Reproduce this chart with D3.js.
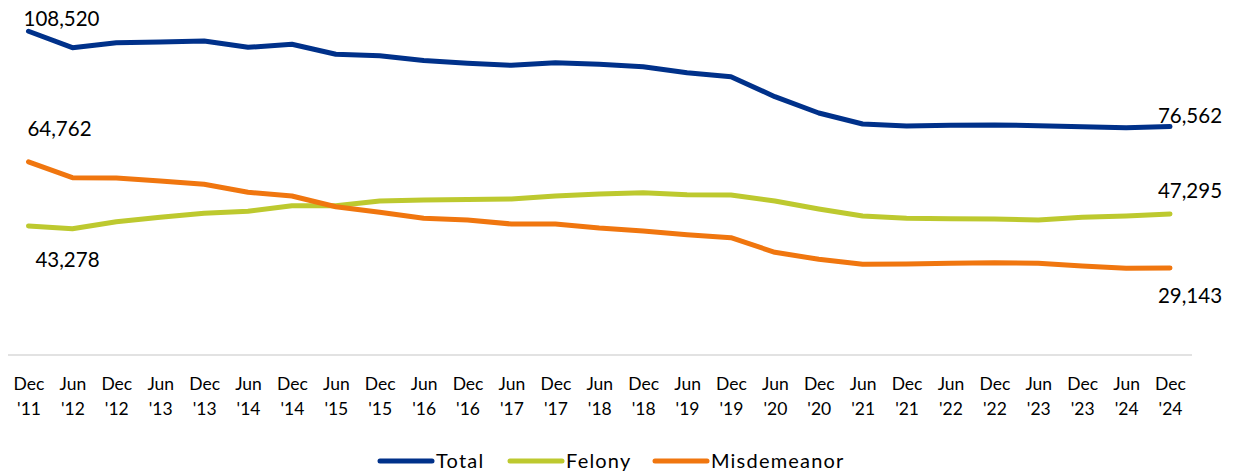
<!DOCTYPE html>
<html>
<head>
<meta charset="utf-8">
<script src="https://cdn.jsdelivr.net/npm/d3@7"></script>
<style>
  body { margin: 0; background: #fff; }
  svg text { font-family: Lato, "Liberation Sans", sans-serif; fill: #000; }
</style>
</head>
<body>
<svg id="chart" width="1233" height="473"></svg>
<script>
// periods on the x axis (two-line labels)
const periods = [
  "Dec '11", "Jun '12", "Dec '12", "Jun '13", "Dec '13", "Jun '14", "Dec '14",
  "Jun '15", "Dec '15", "Jun '16", "Dec '16", "Jun '17", "Dec '17", "Jun '18",
  "Dec '18", "Jun '19", "Dec '19", "Jun '20", "Dec '20", "Jun '21", "Dec '21",
  "Jun '22", "Dec '22", "Jun '23", "Dec '23", "Jun '24", "Dec '24"
];

const total = [
  108520, 103010, 104680, 104920, 105250, 103140, 104150, 100790, 100330,
  98720, 97780, 97110, 97980, 97440, 96640, 94630, 93290, 86580, 81120,
  77430, 76760, 77000, 77100, 76860, 76530, 76190, 76562
];

const felony = [
  43278, 42340, 44680, 46160, 47500, 48170, 50050, 50050, 51620,
  51960, 52120, 52290, 53300, 53970, 54400, 53730, 53630, 51620, 48940,
  46590, 45820, 45690, 45590, 45250, 46160, 46590, 47295
];

const misdemeanor = [
  64762, 59430, 59330, 58320, 57220, 54540, 53300, 49710, 47830,
  45820, 45250, 43910, 43910, 42570, 41560, 40330, 39320, 34420, 32080,
  30400, 30500, 30740, 30940, 30740, 29830, 29060, 29143
];

const seriesNames = ["Total", "Felony", "Misdemeanor"];
const seriesColors = ["#00318A", "#BDC92F", "#F0760F"];

const svg = d3.select("#chart");

const x = d3.scalePoint().domain(periods).range([28.5, 1170]);
const y = d3.scaleLinear().domain([0, 120000]).range([355, -3]);

// baseline
svg.append("line")
  .attr("x1", 8).attr("x2", 1192)
  .attr("y1", 355).attr("y2", 355)
  .attr("stroke", "#d9d9d9")
  .attr("stroke-width", 1.5);

// x axis labels
const xAxis = svg.append("g")
  .attr("transform", "translate(0,355)")
  .call(d3.axisBottom(x).tickSize(0).tickPadding(0));
xAxis.select(".domain").remove();
xAxis.selectAll(".tick text").each(function(d) {
  const parts = d.split(" ");
  const t = d3.select(this).text(null)
    .attr("font-size", 17.5)
    .attr("text-anchor", "middle")
    .attr("y", 0).attr("dy", null);
  t.append("tspan").attr("x", 0).attr("y", 35).text(parts[0]);
  t.append("tspan").attr("x", 0).attr("y", 60).text(parts[1]);
});

// lines
const lineGen = d3.line()
  .x((d, i) => x(periods[i]))
  .y(d => y(d));

const allSeries = [total, felony, misdemeanor];
allSeries.forEach((s, k) => {
  svg.append("path")
    .datum(s)
    .attr("d", lineGen)
    .attr("fill", "none")
    .attr("stroke", seriesColors[k])
    .attr("stroke-width", 5)
    .attr("stroke-linejoin", "round")
    .attr("stroke-linecap", "round");
});

// end point labels
const fmt = d3.format(",");
const first = periods[0], last = periods[periods.length - 1];
const labels = [
  { v: total[0], x: x(first) + 33, y: y(total[0]) - 5 },
  { v: misdemeanor[0], x: x(first) + 31, y: y(misdemeanor[0]) - 26 },
  { v: felony[0], x: x(first) + 39, y: y(felony[0]) + 41 },
  { v: total[total.length - 1], x: x(last) + 20, y: y(total[total.length - 1]) - 4 },
  { v: felony[felony.length - 1], x: x(last) + 20, y: y(felony[felony.length - 1]) - 16 },
  { v: misdemeanor[misdemeanor.length - 1], x: x(last) + 20, y: y(misdemeanor[misdemeanor.length - 1]) + 35 }
];
svg.append("g")
  .selectAll("text")
  .data(labels)
  .join("text")
  .attr("x", d => d.x)
  .attr("y", d => d.y)
  .attr("text-anchor", "middle")
  .attr("font-size", 20.5)
  .text(d => fmt(d.v));

// legend
const legendX = [380, 510, 655];
const legend = svg.append("g");
seriesNames.forEach((name, k) => {
  legend.append("line")
    .attr("x1", legendX[k]).attr("x2", legendX[k] + 52)
    .attr("y1", 461).attr("y2", 461)
    .attr("stroke", seriesColors[k])
    .attr("stroke-width", 5)
    .attr("stroke-linecap", "round");
  legend.append("text")
    .attr("x", legendX[k] + 56)
    .attr("y", 468)
    .attr("font-size", 20)
    .attr("letter-spacing", 1.2)
    .text(name);
});
</script>
</body>
</html>
